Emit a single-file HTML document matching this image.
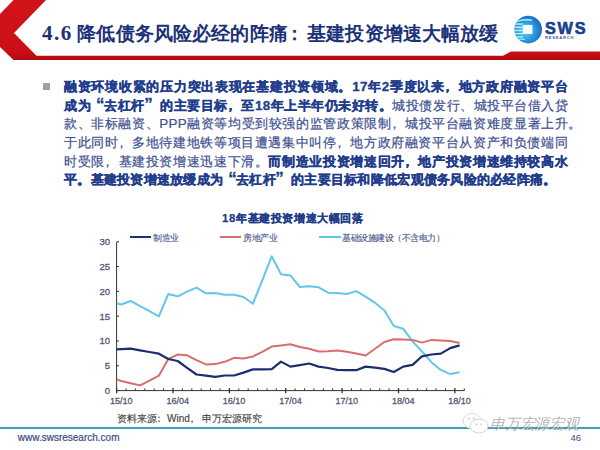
<!DOCTYPE html>
<html><head><meta charset="utf-8"><style>
html,body{margin:0;padding:0;}
body{width:600px;height:450px;position:relative;overflow:hidden;background:#fff;font-family:"Liberation Sans",sans-serif;}
.abs{position:absolute;white-space:nowrap;}
.title{left:42px;top:21px;font-size:19.1px;font-weight:bold;color:#1c3278;font-family:"Liberation Serif",serif;letter-spacing:0px;}
.body{left:64px;top:78px;width:504px;font-size:13.4px;letter-spacing:0.27px;line-height:18.7px;color:#3f5192;font-weight:400;-webkit-text-stroke:0.22px #3f5192;text-align:justify;text-align-last:justify;}
.body b{color:#223d8c;font-weight:700;-webkit-text-stroke:0.3px #223d8c}
q1{quotes:none;margin-left:5px;margin-right:-1px;font-size:17px;line-height:10px}
q2{quotes:none;margin-left:-0.5px;margin-right:7px;font-size:17px;line-height:10px}
q1::before,q2::before,q1::after,q2::after{content:none}
.cm{font-style:normal;position:relative;left:-3.5px}
.body div{height:18.7px;white-space:nowrap;position:relative}
.ctitle{left:222px;top:210.5px;font-size:11.4px;letter-spacing:0.62px;font-weight:bold;color:#213c88;-webkit-text-stroke:0.25px #213c88;}
.leg{top:231.5px;font-size:9.2px;letter-spacing:-0.5px;color:#46568a;-webkit-text-stroke:0.12px #46568a;}
.src{left:117px;top:412px;font-size:10px;color:#454545;-webkit-text-stroke:0.15px #454545;}
.url{left:17.8px;top:432px;font-size:10px;color:#3a4a82;-webkit-text-stroke:0.2px #3a4a82;}
.pg{left:570.5px;top:431.5px;font-size:9.5px;color:#3b4a8a;}
</style></head><body>
<svg width="600" height="70" style="position:absolute;left:0;top:0">
<defs><linearGradient id="rg" x1="0" y1="0" x2="0" y2="1"><stop offset="0" stop-color="#d0141a"/><stop offset="0.85" stop-color="#cc0f16"/><stop offset="1" stop-color="#b00a10"/></linearGradient></defs><polygon points="13.5,0 46,0 14,33 36.5,55.7 503,55.7 511,51.4 600,51.4 600,60 13.5,60 0,47 0,14" fill="url(#rg)"/>
</svg>
<div class="abs title"><span style="font-family:'Liberation Serif',serif;font-size:21px;letter-spacing:1.5px">4.6</span><span style="margin-left:4.5px;letter-spacing:0.15px">降低债务风险必经的阵痛<span style="position:relative;left:-3px">：</span>基建投资增速大幅放缓</span></div>
<svg width="90" height="40" style="position:absolute;left:510px;top:10px">
<defs><radialGradient id="lg" cx="0.4" cy="0.55" r="0.62"><stop offset="0" stop-color="#5cd0f6"/><stop offset="0.55" stop-color="#2c98e0"/><stop offset="1" stop-color="#1768bd"/></radialGradient>
<clipPath id="cc"><circle cx="18.2" cy="19.6" r="13.8"/></clipPath></defs>
<circle cx="18.2" cy="19.6" r="13.8" fill="url(#lg)"/>
<g clip-path="url(#cc)" fill="#b4ecfb">
<path d="M0,0 L9.5,0 L9.5,8.8 Q6,10.3 4.5,12.2 L0,12.2 Z" fill="#fff"/><path d="M6,11.6 Q13,8 22,9.6 L22,11 Q13,9.6 6,12.6 Z"/>
<rect x="3" y="13.3" width="10" height="1.5"/><rect x="3" y="16.5" width="10" height="1.5"/><rect x="3" y="19.7" width="10" height="1.5"/><rect x="3" y="22.9" width="10" height="1.5"/><rect x="3" y="26.1" width="10" height="1.5"/>
<rect x="3" y="28.6" width="12" height="1.2"/>
</g>
<rect x="12.9" y="14.9" width="9.5" height="9.1" fill="#f4feff"/>
<text x="35" y="24.2" font-family="Liberation Sans, sans-serif" font-weight="bold" font-size="16.3" fill="#1b3f90" stroke="#1b3f90" stroke-width="0.6" letter-spacing="1.7">SWS</text>
<text x="35" y="28.7" font-family="Liberation Sans, sans-serif" font-weight="bold" font-size="4.2" fill="#3a5aa0" letter-spacing="0.7">RESEARCH</text>
</svg>
<div style="position:absolute;left:42.5px;top:82.5px;width:7.5px;height:7.5px;background:#a0a0a0"></div>
<div class="abs body">
<div><b>融资环境收紧的压力突出表现在基建投资领域。17年2季度以来<i class="cm">，</i>地方政府融资平台</b></div>
<div><b>成为<q1>“</q1>去杠杆<q2>”</q2>的主要目标<i class="cm">，</i>至18年上半年仍未好转。</b>城投债发行、城投平台借入贷</div>
<div>款、非标融资、PPP融资等均受到较强的监管政策限制<i class="cm">，</i>城投平台融资难度显著上升<span style="position:absolute;left:504px">。</span></div>
<div>于此同时<i class="cm">，</i>多地待建地铁等项目遭遇集中叫停<i class="cm">，</i>地方政府融资平台从资产和负债端同</div>
<div>时受限<i class="cm">，</i>基建投资增速迅速下滑。<b>而制造业投资增速回升<i class="cm">，</i>地产投资增速维持较高水</b></div>
<div style="text-align-last:left"><b>平。基建投资增速放缓成为<q1>“</q1>去杠杆<q2>”</q2>的主要目标和降低宏观债务风险的必经阵痛。</b></div>
</div>
<div class="abs ctitle">18年基建投资增速大幅回落</div>
<div style="position:absolute;left:130px;top:235.5px;width:20.6px;height:2px;background:#1c2f78"></div>
<div class="abs leg" style="left:153px">制造业</div>
<div style="position:absolute;left:220px;top:235.5px;width:20.8px;height:2px;background:#dd6f6f"></div>
<div class="abs leg" style="left:243px">房地产业</div>
<div style="position:absolute;left:319px;top:235.5px;width:21.6px;height:2px;background:#5cc6e3"></div>
<div class="abs leg" style="left:342px">基础设施建设（不含电力）</div>
<svg width="600" height="450" style="position:absolute;left:0;top:0">
<g font-family="Liberation Sans, sans-serif" font-size="9.5" fill="#505a74" stroke="#505a74" stroke-width="0.3"><text x="110" y="393.9" text-anchor="end">0</text><text x="110" y="369.1" text-anchor="end">5</text><text x="110" y="344.3" text-anchor="end">10</text><text x="110" y="319.5" text-anchor="end">15</text><text x="110" y="294.7" text-anchor="end">20</text><text x="110" y="269.9" text-anchor="end">25</text><text x="110" y="245.1" text-anchor="end">30</text></g>
<g font-family="Liberation Sans, sans-serif" font-size="9" fill="#505a74" stroke="#505a74" stroke-width="0.3" text-anchor="middle"><text x="121.3" y="404">15/10</text><text x="177.7" y="404">16/04</text><text x="234.1" y="404">16/10</text><text x="290.4" y="404">17/04</text><text x="346.8" y="404">17/10</text><text x="403.2" y="404">18/04</text><text x="459.6" y="404">18/10</text></g>
<line x1="116.6" y1="242" x2="116.6" y2="391" stroke="#333" stroke-width="1"/>
<line x1="116.6" y1="390.6" x2="119" y2="390.6" stroke="#333" stroke-width="1"/><line x1="116.6" y1="365.8" x2="119" y2="365.8" stroke="#333" stroke-width="1"/><line x1="116.6" y1="341.0" x2="119" y2="341.0" stroke="#333" stroke-width="1"/><line x1="116.6" y1="316.2" x2="119" y2="316.2" stroke="#333" stroke-width="1"/><line x1="116.6" y1="291.4" x2="119" y2="291.4" stroke="#333" stroke-width="1"/><line x1="116.6" y1="266.6" x2="119" y2="266.6" stroke="#333" stroke-width="1"/><line x1="116.6" y1="241.8" x2="119" y2="241.8" stroke="#333" stroke-width="1"/>
<line x1="116.6" y1="390.6" x2="464.3" y2="390.6" stroke="#333" stroke-width="1"/>
<line x1="116.6" y1="388" x2="116.6" y2="393.3" stroke="#333" stroke-width="1.3"/><line x1="126.0" y1="388.4" x2="126.0" y2="390.6" stroke="#333" stroke-width="1"/><line x1="135.4" y1="388.4" x2="135.4" y2="390.6" stroke="#333" stroke-width="1"/><line x1="144.8" y1="388.4" x2="144.8" y2="390.6" stroke="#333" stroke-width="1"/><line x1="154.2" y1="388.4" x2="154.2" y2="390.6" stroke="#333" stroke-width="1"/><line x1="163.6" y1="388.4" x2="163.6" y2="390.6" stroke="#333" stroke-width="1"/><line x1="173.0" y1="388" x2="173.0" y2="393.3" stroke="#333" stroke-width="1.3"/><line x1="182.4" y1="388.4" x2="182.4" y2="390.6" stroke="#333" stroke-width="1"/><line x1="191.8" y1="388.4" x2="191.8" y2="390.6" stroke="#333" stroke-width="1"/><line x1="201.2" y1="388.4" x2="201.2" y2="390.6" stroke="#333" stroke-width="1"/><line x1="210.6" y1="388.4" x2="210.6" y2="390.6" stroke="#333" stroke-width="1"/><line x1="220.0" y1="388.4" x2="220.0" y2="390.6" stroke="#333" stroke-width="1"/><line x1="229.4" y1="388" x2="229.4" y2="393.3" stroke="#333" stroke-width="1.3"/><line x1="238.8" y1="388.4" x2="238.8" y2="390.6" stroke="#333" stroke-width="1"/><line x1="248.2" y1="388.4" x2="248.2" y2="390.6" stroke="#333" stroke-width="1"/><line x1="257.6" y1="388.4" x2="257.6" y2="390.6" stroke="#333" stroke-width="1"/><line x1="267.0" y1="388.4" x2="267.0" y2="390.6" stroke="#333" stroke-width="1"/><line x1="276.3" y1="388.4" x2="276.3" y2="390.6" stroke="#333" stroke-width="1"/><line x1="285.7" y1="388" x2="285.7" y2="393.3" stroke="#333" stroke-width="1.3"/><line x1="295.1" y1="388.4" x2="295.1" y2="390.6" stroke="#333" stroke-width="1"/><line x1="304.5" y1="388.4" x2="304.5" y2="390.6" stroke="#333" stroke-width="1"/><line x1="313.9" y1="388.4" x2="313.9" y2="390.6" stroke="#333" stroke-width="1"/><line x1="323.3" y1="388.4" x2="323.3" y2="390.6" stroke="#333" stroke-width="1"/><line x1="332.7" y1="388.4" x2="332.7" y2="390.6" stroke="#333" stroke-width="1"/><line x1="342.1" y1="388" x2="342.1" y2="393.3" stroke="#333" stroke-width="1.3"/><line x1="351.5" y1="388.4" x2="351.5" y2="390.6" stroke="#333" stroke-width="1"/><line x1="360.9" y1="388.4" x2="360.9" y2="390.6" stroke="#333" stroke-width="1"/><line x1="370.3" y1="388.4" x2="370.3" y2="390.6" stroke="#333" stroke-width="1"/><line x1="379.7" y1="388.4" x2="379.7" y2="390.6" stroke="#333" stroke-width="1"/><line x1="389.1" y1="388.4" x2="389.1" y2="390.6" stroke="#333" stroke-width="1"/><line x1="398.5" y1="388" x2="398.5" y2="393.3" stroke="#333" stroke-width="1.3"/><line x1="407.9" y1="388.4" x2="407.9" y2="390.6" stroke="#333" stroke-width="1"/><line x1="417.3" y1="388.4" x2="417.3" y2="390.6" stroke="#333" stroke-width="1"/><line x1="426.7" y1="388.4" x2="426.7" y2="390.6" stroke="#333" stroke-width="1"/><line x1="436.1" y1="388.4" x2="436.1" y2="390.6" stroke="#333" stroke-width="1"/><line x1="445.5" y1="388.4" x2="445.5" y2="390.6" stroke="#333" stroke-width="1"/><line x1="454.9" y1="388" x2="454.9" y2="393.3" stroke="#333" stroke-width="1.3"/><line x1="464.3" y1="388.4" x2="464.3" y2="390.6" stroke="#333" stroke-width="1"/>
<polyline points="116.6,303.3 121.3,304.5 130.7,301.0 140.1,306.1 149.5,311.2 158.9,316.4 168.3,294.0 177.7,296.3 187.1,291.7 196.5,287.6 205.9,293.3 215.3,292.9 224.7,294.7 234.1,294.7 243.5,297.0 252.9,303.7 262.3,280.3 271.7,256.3 281.0,274.3 290.4,275.4 299.8,287.0 309.2,286.3 318.6,287.3 328.0,292.7 337.4,292.9 346.8,294.0 356.2,291.1 365.6,296.7 375.0,302.8 384.4,310.5 393.8,326.0 403.2,328.7 412.6,341.4 422.0,351.5 431.4,362.2 440.8,369.9 450.2,374.1 459.6,372.3" fill="none" stroke="#62c8e6" stroke-width="2" stroke-linejoin="round"/>
<polyline points="116.6,379.4 121.3,381.0 130.7,383.2 140.1,385.4 149.5,380.6 158.9,375.7 168.3,359.0 177.7,354.6 187.1,355.3 196.5,360.2 205.9,364.4 215.3,364.1 224.7,361.8 234.1,357.8 243.5,358.4 252.9,356.5 262.3,351.8 271.7,346.6 281.0,345.5 290.4,344.3 299.8,347.0 309.2,348.7 318.6,351.5 328.0,351.2 337.4,350.4 346.8,351.7 356.2,353.6 365.6,355.5 375.0,348.8 384.4,342.0 393.8,339.2 403.2,339.5 412.6,339.9 422.0,342.6 431.4,339.9 440.8,340.5 450.2,341.1 459.6,342.9" fill="none" stroke="#d96c6c" stroke-width="2" stroke-linejoin="round"/>
<polyline points="116.6,349.4 121.3,349.2 130.7,348.7 140.1,350.3 149.5,352.0 158.9,353.7 168.3,359.0 177.7,361.0 187.1,367.8 196.5,374.5 205.9,375.6 215.3,376.8 224.7,375.5 234.1,375.5 243.5,372.6 252.9,369.4 262.3,369.3 271.7,369.2 281.0,361.6 290.4,366.6 299.8,365.1 309.2,363.5 318.6,366.6 328.0,368.0 337.4,369.8 346.8,370.2 356.2,370.2 365.6,366.6 375.0,367.7 384.4,368.9 393.8,372.0 403.2,366.6 412.6,364.9 422.0,356.3 431.4,354.5 440.8,353.6 450.2,348.1 459.6,345.4" fill="none" stroke="#1c2e72" stroke-width="2.2" stroke-linejoin="round"/>
</svg>
<div class="abs src">资料来源<span style="position:relative;left:-3px">：</span>Wind<i class="cm" style="left:-3px;margin-right:2.5px">，</i>申万宏源研究</div>
<div style="position:absolute;left:0;top:427.2px;width:600px;height:1.8px;background:#4c9cb8;box-shadow:0 0 1.5px #c8f0f8"></div>
<div class="abs url">www.swsresearch.com</div>
<div class="abs pg">46</div>
<svg width="40" height="30" style="position:absolute;left:460px;top:410px">
<ellipse cx="12" cy="11" rx="9" ry="7.5" fill="#fff" stroke="#d4d4d4" stroke-width="0.9"/>
<ellipse cx="19" cy="16" rx="9" ry="7" fill="#fff" stroke="#cfcfcf" stroke-width="0.9"/>
<circle cx="9" cy="8.5" r="1" fill="#c8c8c8"/><circle cx="14" cy="8.5" r="1" fill="#c8c8c8"/>
<circle cx="16.5" cy="14.5" r="0.9" fill="#c8c8c8"/><circle cx="21.5" cy="14.5" r="0.9" fill="#c8c8c8"/>
</svg>
<div class="abs" style="left:490px;top:414.5px;font-size:15px;color:rgba(125,125,125,0.6);font-style:italic;letter-spacing:-0.2px;text-shadow:0.6px 0.6px 0 rgba(255,255,255,0.6)">申万宏源宏观</div>
</body></html>
